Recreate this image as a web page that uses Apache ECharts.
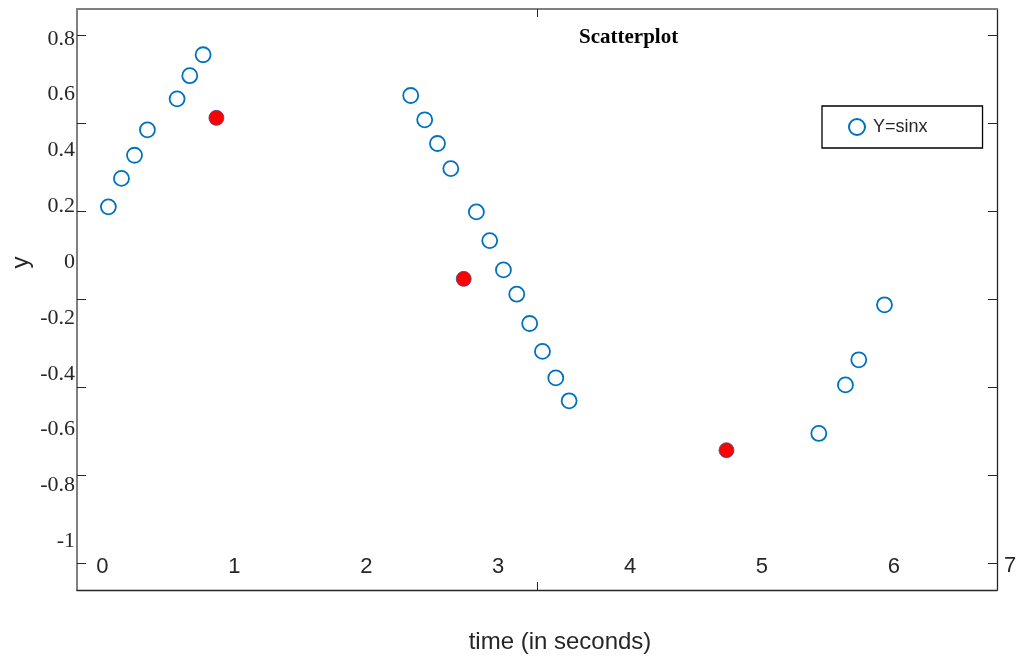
<!DOCTYPE html>
<html>
<head>
<meta charset="utf-8">
<title>Scatterplot</title>
<script src="https://cdn.jsdelivr.net/npm/echarts@6/dist/echarts.min.js"></script>
<style>
  html, body { margin: 0; padding: 0; background: #fff; }
  #chart { width: 1016px; height: 657px; }
</style>
</head>
<body>
<div id="chart"></div>
<script>
// data (label scale)
const sinX = [0.045, 0.144, 0.243, 0.341, 0.566, 0.662, 0.763,
  2.337, 2.443, 2.540, 2.641, 2.835, 2.936, 3.040, 3.141, 3.239, 3.336, 3.437, 3.538,
  5.431, 5.633, 5.734, 5.929]
const sinY = [0.198, 0.300, 0.383, 0.474, 0.585, 0.668, 0.743,
  0.597, 0.510, 0.425, 0.335, 0.180, 0.077, -0.028, -0.115, -0.220, -0.320, -0.415, -0.497,
  -0.614, -0.440, -0.350, -0.153]
const redX = [0.864, 2.739, 4.731]
const redY = [0.517, -0.060, -0.674]

// tick labels
const xTickValues = [0, 1, 2, 3, 4, 5, 6]
const xLastLabel = '7'
const yTickValues = [-1, -0.8, -0.6, -0.4, -0.2, 0, 0.2, 0.4, 0.6, 0.8]
// frame tick marks (box axes)
const frameYTicks = [0, 1, 2, 3, 4, 5, 6]
const frameXTicks = [1]

const pairs = (xs, ys) => xs.map((x, i) => [x, ys[i]])

const dark = '#262626'
const blue = '#0072BD'
const sans = 'Liberation Sans, Arial, sans-serif'
const serif = 'Liberation Serif, Times New Roman, serif'

const chart = echarts.init(document.getElementById('chart'))

const hideAll = {
  axisLine: { show: false },
  axisTick: { show: false },
  splitLine: { show: false },
  axisLabel: { show: false }
}

chart.setOption({
  backgroundColor: '#fff',
  animation: false,
  title: {
    text: 'Scatterplot',
    left: 579,
    top: 27,
    padding: 0,
    textStyle: { fontFamily: serif, fontWeight: 'bold', fontSize: 21, color: '#000' }
  },
  legend: {
    data: ['Y=sinx'],
    left: 822,
    top: 106,
    orient: 'vertical',
    padding: [12, 55, 12, 26],
    itemWidth: 16,
    itemHeight: 16,
    itemGap: 0,
    borderColor: '#000',
    borderWidth: 1.3,
    borderRadius: 0,
    textStyle: { fontFamily: sans, fontSize: 18, color: dark, padding: [0, 0, 0, 3] }
  },
  grid: {
    left: 77,
    right: 19,
    top: 9,
    bottom: 67,
    containLabel: false,
    outerBoundsMode: 'none'
  },
  xAxis: [
    {
      // data axis, labels only
      type: 'value',
      min: -0.193,
      max: 6.782,
      position: 'bottom',
      axisLine: { show: false, onZero: false },
      axisTick: { show: false },
      splitLine: { show: false },
      axisLabel: {
        inside: true,
        margin: 12,
        customValues: xTickValues,
        formatter: v => String(v),
        fontFamily: sans,
        fontSize: 22,
        color: dark
      },
      name: '{v|' + xLastLabel + '}',
      nameLocation: 'end',
      nameGap: 7,
      nameMoveOverlap: false,
      nameTextStyle: {
        verticalAlign: 'middle',
        rich: {
          v: { fontFamily: sans, fontSize: 22, color: dark, padding: [0, 0, 48, 0] }
        }
      }
    },
    {
      // top frame
      type: 'value',
      min: 0,
      max: 2,
      position: 'top',
      ...hideAll,
      axisLine: { show: true, onZero: false, lineStyle: { color: '#808080', width: 2 } },
      axisTick: { show: true, inside: true, length: 8, customValues: frameXTicks, lineStyle: { color: dark, width: 1 } }
    },
    {
      // bottom frame
      type: 'value',
      min: 0,
      max: 2,
      position: 'bottom',
      ...hideAll,
      axisLine: { show: true, onZero: false, lineStyle: { color: dark, width: 1.3 } },
      axisTick: { show: true, inside: true, length: 8, customValues: frameXTicks, lineStyle: { color: dark, width: 1 } },
      name: 'time (in seconds)',
      nameLocation: 'middle',
      nameGap: 40,
      nameTextStyle: { fontFamily: sans, fontSize: 24, color: dark, padding: [0, 0, 0, 46] }
    }
  ],
  yAxis: [
    {
      // data axis, labels only
      type: 'value',
      min: -1.175,
      max: 0.907,
      position: 'left',
      axisLine: { show: false, onZero: false },
      axisTick: { show: false },
      splitLine: { show: false },
      axisLabel: {
        margin: 2,
        customValues: yTickValues,
        formatter: v => String(v),
        fontFamily: serif,
        fontSize: 22,
        color: dark
      }
    },
    {
      // left frame
      type: 'value',
      min: -0.3,
      max: 6.3,
      position: 'left',
      ...hideAll,
      axisLine: { show: true, onZero: false, lineStyle: { color: '#808080', width: 2 } },
      axisTick: { show: true, inside: true, length: 9, customValues: frameYTicks, lineStyle: { color: dark, width: 1 } },
      name: 'y',
      nameLocation: 'middle',
      nameGap: 44,
      nameTextStyle: { fontFamily: sans, fontSize: 24, color: dark, padding: [0, 0, 0, 74] }
    },
    {
      // right frame
      type: 'value',
      min: -0.3,
      max: 6.3,
      position: 'right',
      ...hideAll,
      axisLine: { show: true, onZero: false, lineStyle: { color: dark, width: 1.3 } },
      axisTick: { show: true, inside: true, length: 9, customValues: frameYTicks, lineStyle: { color: dark, width: 1 } }
    }
  ],
  series: [
    {
      name: 'Y=sinx',
      type: 'scatter',
      xAxisIndex: 0,
      yAxisIndex: 0,
      symbol: 'circle',
      symbolSize: 15,
      itemStyle: { color: '#fff', borderColor: blue, borderWidth: 1.8, opacity: 1 },
      data: pairs(sinX, sinY)
    },
    {
      name: 'marked',
      type: 'scatter',
      xAxisIndex: 0,
      yAxisIndex: 0,
      symbol: 'circle',
      symbolSize: 15,
      itemStyle: { color: '#ff0000', borderColor: '#3a4f9a', borderWidth: 0.8, opacity: 1 },
      data: pairs(redX, redY)
    }
  ]
})
</script>
</body>
</html>
